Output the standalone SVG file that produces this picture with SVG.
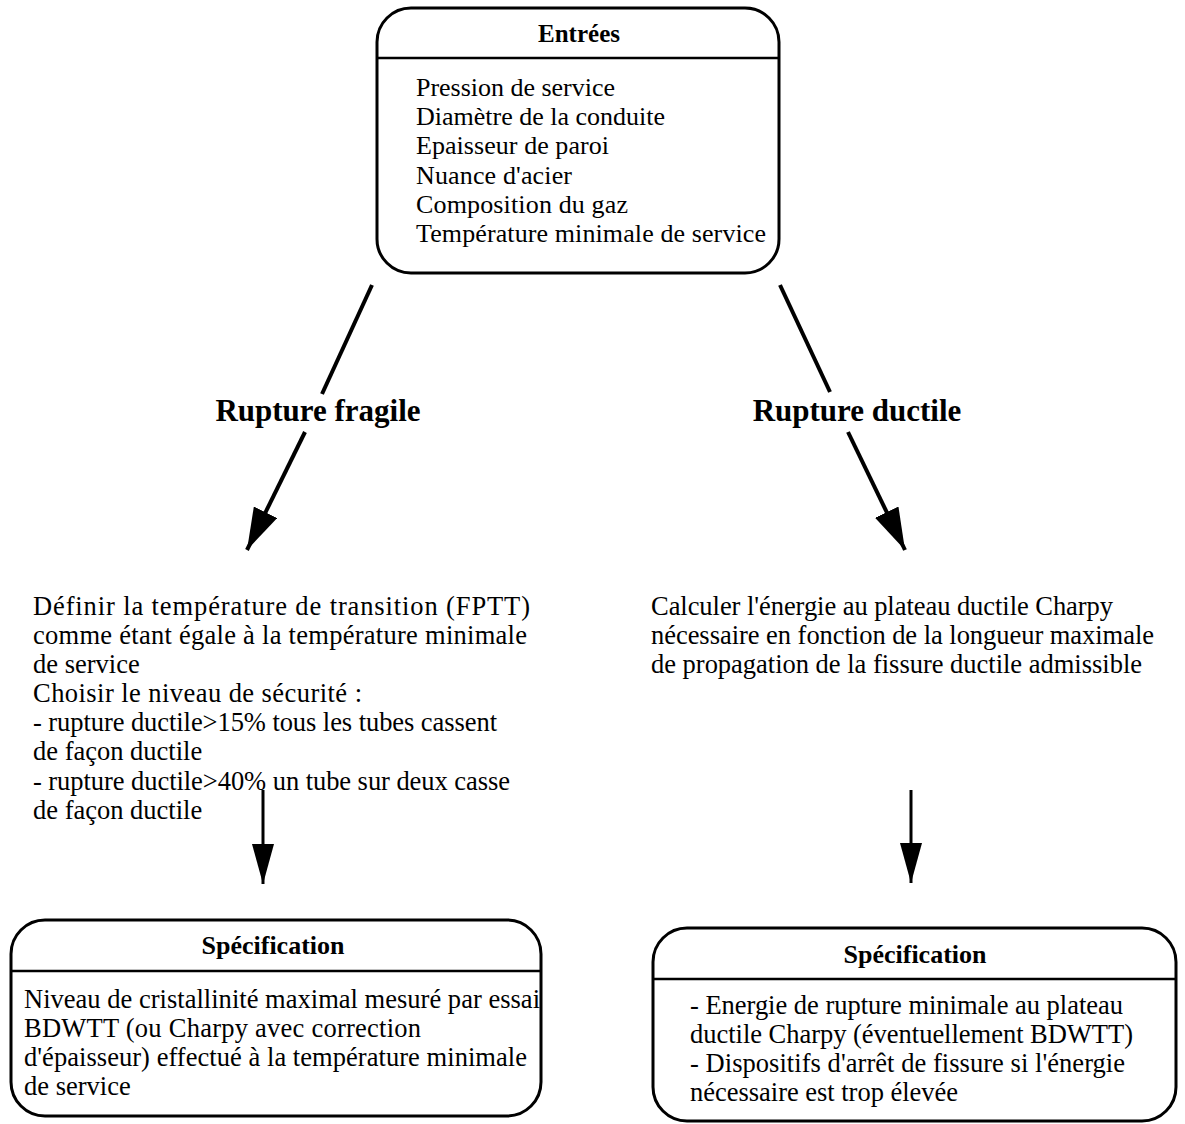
<svg xmlns="http://www.w3.org/2000/svg" width="1185" height="1124" viewBox="0 0 1185 1124">
<style>
.box{fill:#fff;stroke:#000;stroke-width:3}
.div{stroke:#000;stroke-width:2.5}
.t{font-family:"Liberation Serif","Times New Roman",serif;font-size:26px;fill:#000}
.b{font-family:"Liberation Serif","Times New Roman",serif;font-size:26.5px;fill:#000}
.h{font-family:"Liberation Serif","Times New Roman",serif;font-size:26px;font-weight:bold;fill:#000;text-anchor:middle}
.big{font-family:"Liberation Serif","Times New Roman",serif;font-size:31px;font-weight:bold;fill:#000;text-anchor:middle}
.c{stroke:#000;stroke-width:4;fill:none}
.cv{stroke:#000;stroke-width:3;fill:none}
</style>
<defs>
<marker id="ah" markerUnits="userSpaceOnUse" markerWidth="44" markerHeight="26" refX="42" refY="13" orient="auto">
<path d="M0,0 L42,13 L0,26 z" fill="#000"/>
</marker>
<marker id="ahv" markerUnits="userSpaceOnUse" markerWidth="42" markerHeight="22" refX="40" refY="11" orient="auto">
<path d="M0,0 L40,11 L0,22 z" fill="#000"/>
</marker>
</defs>
<rect width="1185" height="1124" fill="#fff"/>

<g id="entrees">
<rect class="box" x="377" y="8" width="402" height="265" rx="34" ry="34"/>
<line class="div" x1="377" y1="58" x2="779" y2="58"/>
<text class="h" x="579" y="42" style="font-size:25px">Entrées</text>
<text class="t" x="416" y="96" textLength="199">Pression de service</text>
<text class="t" x="416" y="125" textLength="249">Diamètre de la conduite</text>
<text class="t" x="416" y="154" textLength="193">Epaisseur de paroi</text>
<text class="t" x="416" y="184" textLength="156">Nuance d'acier</text>
<text class="t" x="416" y="213" textLength="212">Composition du gaz</text>
<text class="t" x="416" y="242" textLength="350">Température minimale de service</text>
</g>

<g id="label-fragile">
<text class="big" x="318" y="421">Rupture fragile</text>
</g>
<g id="label-ductile">
<text class="big" x="857" y="421">Rupture ductile</text>
</g>

<g id="fragile-text">
<text class="b" x="33" y="615" textLength="497">Définir la température de transition (FPTT)</text>
<text class="b" x="33" y="644" textLength="494">comme étant égale à la température minimale</text>
<text class="b" x="33" y="673">de service</text>
<text class="b" x="33" y="702" textLength="329">Choisir le niveau de sécurité :</text>
<text class="b" x="33" y="731" textLength="464">- rupture ductile&gt;15% tous les tubes cassent</text>
<text class="b" x="33" y="760">de façon ductile</text>
<text class="b" x="33" y="790" textLength="477">- rupture ductile&gt;40% un tube sur deux casse</text>
<text class="b" x="33" y="819">de façon ductile</text>
</g>

<g id="ductile-text">
<text class="b" x="651" y="615" textLength="462">Calculer l'énergie au plateau ductile Charpy</text>
<text class="b" x="651" y="644" textLength="503">nécessaire en fonction de la longueur maximale</text>
<text class="b" x="651" y="673" textLength="491">de propagation de la fissure ductile admissible</text>
</g>

<g id="spec-fragile">
<rect class="box" x="11" y="920" width="530" height="196" rx="34" ry="34"/>
<line class="div" x1="11" y1="971" x2="541" y2="971"/>
<text class="h" x="273" y="954">Spécification</text>
<text class="b" x="24" y="1008" textLength="516">Niveau de cristallinité maximal mesuré par essai</text>
<text class="b" x="24" y="1037" textLength="397">BDWTT  (ou Charpy avec correction</text>
<text class="b" x="24" y="1066" textLength="503">d'épaisseur) effectué à la température minimale</text>
<text class="b" x="24" y="1095">de service</text>
</g>

<g id="spec-ductile">
<rect class="box" x="653" y="928" width="523" height="193" rx="34" ry="34"/>
<line class="div" x1="653" y1="979" x2="1176" y2="979"/>
<text class="h" x="915" y="963">Spécification</text>
<text class="b" x="690" y="1014" textLength="433">- Energie de rupture minimale au plateau</text>
<text class="b" x="690" y="1043" textLength="443">ductile Charpy (éventuellement BDWTT)</text>
<text class="b" x="690" y="1072" textLength="435">- Dispositifs d'arrêt de fissure si l'énergie</text>
<text class="b" x="690" y="1101" textLength="268">nécessaire est trop élevée</text>
</g>

<g id="connectors">
<line class="c" x1="372" y1="285" x2="322" y2="394"/>
<line class="c" x1="305" y1="432" x2="247" y2="550" marker-end="url(#ah)"/>
<line class="c" x1="780" y1="285" x2="830" y2="392"/>
<line class="c" x1="848" y1="432" x2="905" y2="550" marker-end="url(#ah)"/>
<line class="cv" x1="263" y1="790" x2="263" y2="884" marker-end="url(#ahv)"/>
<line class="cv" x1="911" y1="790" x2="911" y2="883" marker-end="url(#ahv)"/>
</g>
</svg>
